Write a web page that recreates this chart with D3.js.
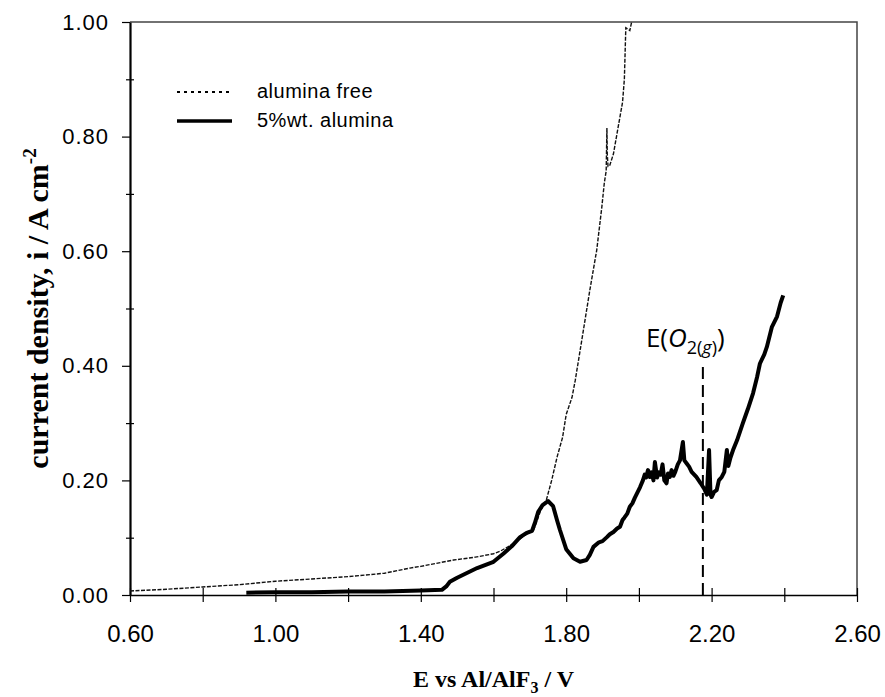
<!DOCTYPE html>
<html>
<head>
<meta charset="utf-8">
<script src="https://cdn.jsdelivr.net/npm/d3@7/dist/d3.min.js"></script>
<style>
  body { margin: 0; background: #fff; }
</style>
</head>
<body>
<div id="chart"></div>
<script>
// alumina free (thin dotted trace)
var freeE = [0.60, 0.70, 0.80, 0.90, 1.00, 1.10, 1.20, 1.30, 1.37, 1.40, 1.49, 1.55, 1.60, 1.62, 1.65, 1.68, 1.70, 1.71, 1.72, 1.73, 1.745,
             1.76, 1.775, 1.79, 1.80, 1.816, 1.825, 1.846, 1.865, 1.884, 1.898, 1.905, 1.910, 1.912, 1.913, 1.915, 1.92, 1.93, 1.94,
             1.955, 1.960, 1.964, 1.975, 1.98, 1.99];
var freeI = [0.007, 0.010, 0.014, 0.018, 0.024, 0.028, 0.032, 0.038, 0.047, 0.050, 0.061, 0.066, 0.072, 0.077, 0.088, 0.101, 0.110, 0.113, 0.130, 0.148, 0.165,
             0.200, 0.241, 0.275, 0.315, 0.345, 0.375, 0.457, 0.532, 0.602, 0.677, 0.720, 0.740, 0.815, 0.770, 0.748, 0.750, 0.770, 0.806,
             0.860, 0.900, 0.990, 0.985, 1.000, 1.010];

// 5%wt. alumina (thick trace)
var wtE = [0.92, 1.00, 1.10, 1.20, 1.30, 1.40, 1.458, 1.47, 1.48, 1.50, 1.555, 1.60, 1.627, 1.65, 1.673, 1.69, 1.706, 1.714, 1.723, 1.735,
           1.75, 1.764, 1.775, 1.783, 1.80, 1.82, 1.838, 1.856, 1.865, 1.875, 1.89, 1.90, 1.912, 1.92, 1.93, 1.94, 1.948, 1.955, 1.96,
           1.968, 1.975, 1.982, 1.989, 2.003, 2.011, 2.016, 2.02, 2.025, 2.03, 2.035, 2.04, 2.044, 2.05, 2.055, 2.06, 2.065, 2.07,
           2.076, 2.08, 2.085, 2.09, 2.095, 2.10, 2.107, 2.113, 2.121, 2.125, 2.131, 2.138, 2.145, 2.158, 2.17, 2.18, 2.187, 2.193,
           2.197, 2.20, 2.207, 2.214, 2.22, 2.228, 2.235, 2.242, 2.246, 2.252, 2.259, 2.27, 2.286, 2.30, 2.314, 2.325, 2.333, 2.345,
           2.352, 2.366, 2.38, 2.39, 2.397];
var wtI = [0.004, 0.005, 0.005, 0.006, 0.006, 0.008, 0.009, 0.015, 0.023, 0.030, 0.047, 0.058, 0.072, 0.085, 0.101, 0.108, 0.112, 0.126, 0.145, 0.157,
           0.164, 0.155, 0.130, 0.113, 0.080, 0.064, 0.058, 0.061, 0.070, 0.084, 0.092, 0.094, 0.101, 0.106, 0.110, 0.116, 0.119, 0.131, 0.135,
           0.142, 0.154, 0.160, 0.170, 0.188, 0.200, 0.210, 0.205, 0.218, 0.206, 0.214, 0.200, 0.232, 0.205, 0.214, 0.210, 0.228, 0.200,
           0.195, 0.212, 0.206, 0.218, 0.208, 0.215, 0.228, 0.235, 0.267, 0.235, 0.230, 0.224, 0.215, 0.206, 0.195, 0.185, 0.175, 0.253,
           0.175, 0.171, 0.180, 0.183, 0.200, 0.206, 0.215, 0.253, 0.225, 0.240, 0.253, 0.270, 0.300, 0.325, 0.352, 0.380, 0.404, 0.420,
           0.433, 0.468, 0.486, 0.510, 0.523];

var xMajor = [0.6, 1.0, 1.4, 1.8, 2.2, 2.6];
var xMinor = [0.8, 1.2, 1.6, 2.0, 2.4];
var yMajor = [0, 0.2, 0.4, 0.6, 0.8, 1.0];
var yMinor = [0.1, 0.3, 0.5, 0.7, 0.9];

var o2E = 2.176, o2Top = 0.398;

var margin = {top: 22, right: 28, bottom: 102, left: 130},
    width = 885 - margin.left - margin.right,
    height = 697 - margin.top - margin.bottom;

var svg = d3.select("#chart")
  .append("svg")
    .attr("width", 885)
    .attr("height", 697)
  .append("g")
    .attr("transform", "translate(" + margin.left + "," + margin.top + ")");

var x = d3.scaleLinear().domain([0.6, 2.6]).range([0, width]);
var y = d3.scaleLinear().domain([0, 1]).range([height, 0]);

// top and right frame
svg.append("path")
  .attr("d", "M0,0H" + width + "V" + height)
  .attr("fill", "none")
  .attr("stroke", "#444")
  .attr("stroke-width", 1.5);

// x axis
var xAxis = svg.append("g")
  .attr("transform", "translate(0," + height + ")")
  .call(d3.axisBottom(x)
    .tickValues(xMajor.concat(xMinor))
    .tickSize(7)
    .tickSizeOuter(0)
    .tickFormat(function(d) { return xMajor.indexOf(d) >= 0 ? d.toFixed(2) : ""; }));
xAxis.select(".domain").attr("stroke", "#000").attr("stroke-width", 1.5);
xAxis.selectAll(".tick line").attr("y1", -7).attr("stroke", "#000").attr("stroke-width", 1.2);
xAxis.selectAll(".tick text")
  .attr("y", 47).attr("dy", 0)
  .style("font-family", "'Liberation Sans', Arial, sans-serif")
  .style("font-size", "24px")
  .attr("fill", "#000");

// y axis
var yAxis = svg.append("g")
  .call(d3.axisLeft(y)
    .tickValues(yMajor)
    .tickSize(8)
    .tickSizeOuter(0)
    .tickFormat(function(d) { return d.toFixed(2); }));
yAxis.select(".domain").attr("stroke", "#000").attr("stroke-width", 2.2);
yAxis.selectAll(".tick line").attr("stroke", "#000").attr("stroke-width", 1.2);
yAxis.selectAll(".tick text")
  .attr("x", -21)
  .style("font-family", "'Liberation Sans', Arial, sans-serif")
  .style("font-size", "22px")
  .style("letter-spacing", "1px")
  .attr("fill", "#000");

var yMinorAxis = svg.append("g")
  .call(d3.axisLeft(y).tickValues(yMinor).tickSize(4).tickSizeOuter(0).tickFormat(""));
yMinorAxis.select(".domain").remove();
yMinorAxis.selectAll(".tick line").attr("x1", 4).attr("stroke", "#000").attr("stroke-width", 1.2);

// axis titles
svg.append("text")
  .attr("x", width / 2)
  .attr("y", height + 92)
  .attr("text-anchor", "middle")
  .style("font-family", "'Liberation Serif', 'Times New Roman', serif")
  .style("font-weight", "bold")
  .style("font-size", "24px")
  .call(function(t) {
    t.append("tspan").text("E vs Al/AlF");
    t.append("tspan").attr("dy", 6).style("font-size", "16px").text("3");
    t.append("tspan").attr("dy", -6).text(" / V");
  });

svg.append("text")
  .attr("transform", "translate(" + (48 - margin.left) + "," + (height / 2) + ")rotate(-90)")
  .attr("text-anchor", "middle")
  .style("font-family", "'Liberation Serif', 'Times New Roman', serif")
  .style("font-weight", "bold")
  .style("font-size", "30px")
  .call(function(t) {
    t.append("tspan").text("current density, i / A cm");
    t.append("tspan").attr("dy", -12).style("font-size", "19px").text("-2");
  });

// curves
svg.append("clipPath").attr("id", "plot-clip")
  .append("rect").attr("width", width).attr("height", height + 2);

var line = d3.line()
  .x(function(d) { return x(d[0]); })
  .y(function(d) { return y(d[1]); });

svg.append("path")
  .datum(d3.zip(freeE, freeI))
  .attr("clip-path", "url(#plot-clip)")
  .attr("d", line)
  .attr("fill", "none")
  .attr("stroke", "#111")
  .attr("stroke-width", 1.4)
  .attr("stroke-dasharray", "4,1.5");

svg.append("path")
  .datum(d3.zip(wtE, wtI))
  .attr("d", line)
  .attr("fill", "none")
  .attr("stroke", "#000")
  .attr("stroke-width", 4)
  .attr("stroke-linejoin", "round");

// O2 evolution marker
svg.append("line")
  .attr("x1", x(o2E)).attr("x2", x(o2E))
  .attr("y1", y(o2Top)).attr("y2", y(0))
  .attr("stroke", "#000")
  .attr("stroke-width", 2)
  .attr("stroke-dasharray", "12,6");

svg.append("text")
  .attr("x", x(o2E) - 57)
  .attr("y", y(o2Top) - 20)
  .style("font-family", "'Open Sans', sans-serif")
  .style("font-size", "26px")
  .call(function(t) {
    t.append("tspan").text("E(");
    t.append("tspan").style("font-style", "italic").text("O");
    t.append("tspan").attr("dy", 7).style("font-size", "18px").text("2(");
    t.append("tspan").style("font-size", "18px").style("font-style", "italic").text("g");
    t.append("tspan").style("font-size", "18px").text(")");
    t.append("tspan").attr("dy", -7).text(")");
  });

// legend
var legend = svg.append("g").attr("transform", "translate(" + (177 - margin.left) + "," + (92 - margin.top) + ")");
legend.append("line")
  .attr("x1", 0).attr("x2", 55).attr("y1", 0).attr("y2", 0)
  .attr("stroke", "#000").attr("stroke-width", 2).attr("stroke-dasharray", "3,4");
legend.append("line")
  .attr("x1", 0).attr("x2", 55).attr("y1", 29).attr("y2", 29)
  .attr("stroke", "#000").attr("stroke-width", 3.5);
legend.selectAll("text")
  .data(["alumina free", "5%wt. alumina"])
  .enter()
  .append("text")
    .attr("x", 80)
    .attr("y", function(d, i) { return 6 + i * 29; })
    .style("font-family", "'Liberation Sans', Arial, sans-serif")
    .style("font-size", "20px")
    .style("letter-spacing", "0.5px")
    .text(function(d) { return d; });
</script>
</body>
</html>
